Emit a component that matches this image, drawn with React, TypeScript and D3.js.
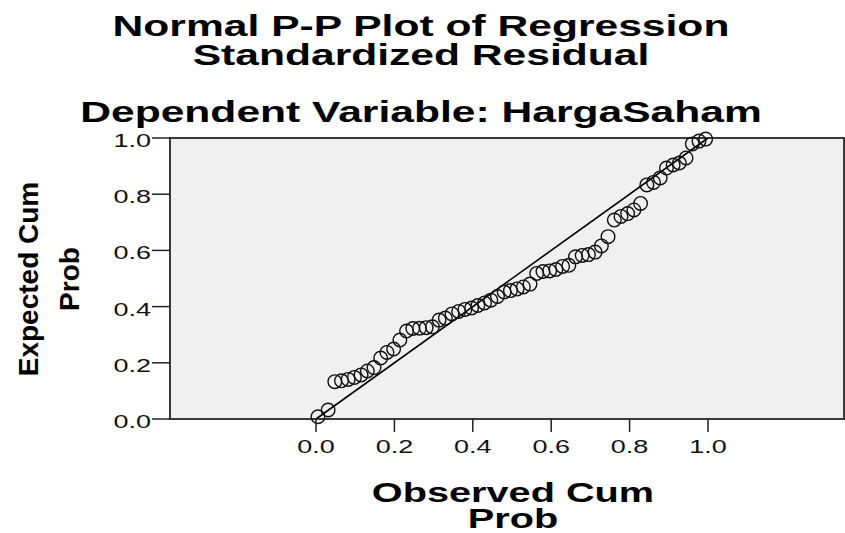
import * as d3 from 'd3';

// observed cum prob (x) / expected cum prob (y)
const observed = [
  0.005, 0.031, 0.048, 0.065, 0.082, 0.098, 0.115, 0.131, 0.148, 0.165,
  0.181, 0.198, 0.214, 0.231, 0.247, 0.264, 0.281, 0.297, 0.314, 0.330,
  0.347, 0.364, 0.380, 0.397, 0.413, 0.430, 0.446, 0.463, 0.480, 0.496,
  0.513, 0.529, 0.546, 0.563, 0.579, 0.596, 0.612, 0.629, 0.645, 0.662,
  0.679, 0.695, 0.712, 0.728, 0.745, 0.761, 0.778, 0.795, 0.811, 0.828,
  0.844, 0.861, 0.878, 0.894, 0.911, 0.927, 0.944, 0.960, 0.977, 0.994,
];
const expected = [
  0.008, 0.032, 0.133, 0.136, 0.141, 0.148, 0.157, 0.171, 0.183, 0.217,
  0.237, 0.249, 0.281, 0.313, 0.322, 0.323, 0.325, 0.328, 0.352, 0.359,
  0.374, 0.383, 0.390, 0.395, 0.404, 0.413, 0.423, 0.436, 0.452, 0.457,
  0.463, 0.470, 0.480, 0.518, 0.525, 0.527, 0.532, 0.543, 0.547, 0.577,
  0.582, 0.585, 0.594, 0.616, 0.649, 0.708, 0.721, 0.731, 0.744, 0.767,
  0.833, 0.842, 0.858, 0.893, 0.904, 0.911, 0.929, 0.979, 0.989, 0.996,
];
const ticks = [0, 0.2, 0.4, 0.6, 0.8, 1.0];
const titleLines = ['Normal P-P Plot of Regression', 'Standardized Residual'];
const subtitle = 'Dependent Variable: HargaSaham';
const xTitle = ['Observed Cum', 'Prob'];
const yTitle = ['Expected Cum', 'Prob'];

const W = 845;
const H = 533;
const FONT = '"Liberation Sans", Arial, sans-serif';
const SX = 1.42; // horizontal text in the original is rendered wide

export default function App() {
  const frame = { left: 170, right: 844, top: 138, bottom: 419 };
  const x = d3.scaleLinear([0, 1], [316, 708]);
  const y = d3.scaleLinear([0, 1], [frame.bottom, frame.top]);
  const pts = observed.map((o, i) => ({ o, e: expected[i] }));

  const wide = (cx: number, by: number, s = SX) => `translate(${cx},${by}) scale(${s},1)`;

  return (
    <svg width={W} height={H} style={{ position: 'absolute', left: 0, top: 0, background: '#fff' }}>
      {/* titles */}
      {titleLines.map((t, i) => (
        <text key={t} transform={wide(421, 36 + i * 29)} textAnchor="middle"
          fontFamily={FONT} fontWeight="bold" fontSize={30} fill="#000">{t}</text>
      ))}
      <text transform={wide(421, 122)} textAnchor="middle"
        fontFamily={FONT} fontWeight="bold" fontSize={30} fill="#000">{subtitle}</text>

      {/* plot frame */}
      <rect x={frame.left} y={frame.top} width={frame.right - frame.left} height={frame.bottom - frame.top}
        fill="#f0f0f0" stroke="#3a3a3a" strokeWidth={2} />

      {/* reference line */}
      <line x1={x(0)} y1={y(0)} x2={x(1)} y2={y(1)} stroke="#000" strokeWidth={1.6} />

      {/* points */}
      {pts.map((p, i) => (
        <circle key={i} cx={x(p.o)} cy={y(p.e)} r={6.8} fill="none" stroke="#111" strokeWidth={1.4} />
      ))}

      {/* y axis ticks */}
      {ticks.map(t => (
        <g key={'y' + t}>
          <line x1={frame.left - 18} x2={frame.left} y1={y(t)} y2={y(t)} stroke="#222" strokeWidth={1.5} />
          <text transform={wide(frame.left - 19, y(t) + 9, 1.5)} textAnchor="end"
            fontFamily={FONT} fontSize={18} fill="#111">{t.toFixed(1)}</text>
        </g>
      ))}

      {/* x axis ticks */}
      {ticks.map(t => (
        <g key={'x' + t}>
          <line x1={x(t)} x2={x(t)} y1={frame.bottom} y2={frame.bottom + 13} stroke="#222" strokeWidth={1.5} />
          <text transform={wide(x(t), frame.bottom + 34, 1.5)} textAnchor="middle"
            fontFamily={FONT} fontSize={18} fill="#111">{t.toFixed(1)}</text>
        </g>
      ))}

      {/* axis titles */}
      {xTitle.map((t, i) => (
        <text key={t} transform={wide(513, 502 + i * 26, 1.47)} textAnchor="middle"
          fontFamily={FONT} fontWeight="bold" fontSize={27} fill="#000">{t}</text>
      ))}
      {yTitle.map((t, i) => (
        <text key={t} transform={`translate(${38 + i * 41},279) rotate(-90)`} textAnchor="middle"
          fontFamily={FONT} fontWeight="bold" fontSize={28} fill="#000">{t}</text>
      ))}
    </svg>
  );
}
